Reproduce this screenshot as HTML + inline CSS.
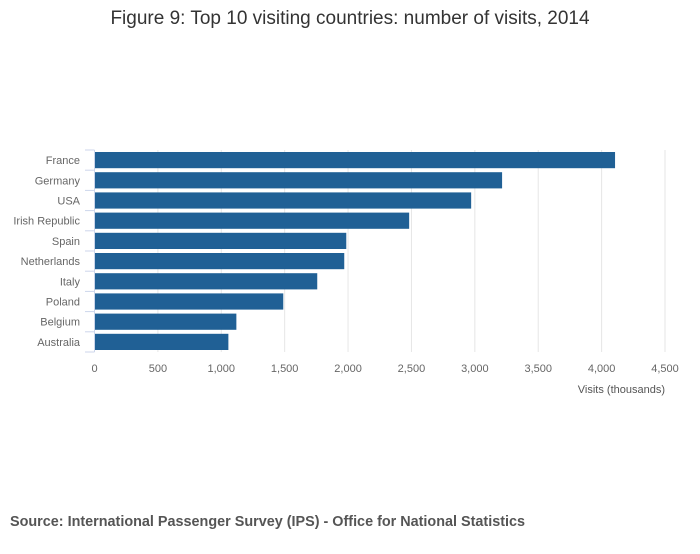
<!DOCTYPE html>
<html><head><meta charset="utf-8"><style>
body{margin:0;background:#fff;font-family:"Liberation Sans",sans-serif;}
</style></head><body>
<svg width="700" height="549" viewBox="0 0 700 549" id="chart">
<text x="350" y="24" text-anchor="middle" font-size="19" fill="#333">Figure 9: Top 10 visiting countries: number of visits, 2014</text>
<g id="grid"></g><g id="bars"></g><g id="axes"></g>
<text x="665" y="393" text-anchor="end" font-size="11" fill="#555">Visits (thousands)</text>
<text x="10" y="526" font-size="14.4" font-weight="bold" fill="#555">Source: International Passenger Survey (IPS) - Office for National Statistics</text>
</svg>
<script>
const categories=["France","Germany","USA","Irish Republic","Spain","Netherlands","Italy","Poland","Belgium","Australia"];
const visits=[4106,3215,2971,2482,1986,1970,1757,1489,1119,1056];
const ticks=[0,500,1000,1500,2000,2500,3000,3500,4000,4500];
const tickLabels=["0","500","1,000","1,500","2,000","2,500","3,000","3,500","4,000","4,500"];
const NS="http://www.w3.org/2000/svg";
const x0=94.5,x1=665,yTop=150,yBot=352,maxV=4500;
const step=(yBot-yTop)/categories.length;
function xs(v){return x0+(x1-x0)*v/maxV;}
function mk(t,a,p){const e=document.createElementNS(NS,t);for(const k in a)e.setAttribute(k,a[k]);p.appendChild(e);return e;}
const grid=document.getElementById('grid'),bars=document.getElementById('bars'),axes=document.getElementById('axes');
ticks.forEach((t,i)=>{
  if(i>0){const g=mk('line',{x1:xs(t),x2:xs(t),y1:yTop,y2:yBot,stroke:'#e6e6e6'},grid);
  
  }
  const l=mk('text',{x:xs(t),y:372,'text-anchor':'middle','font-size':11,fill:'#666'},axes);
  l.textContent=tickLabels[i];
  
  
});
categories.forEach((c,i)=>{
  const y=yTop+i*step;
  const b=mk('rect',{x:x0+0.5,y:y+2,width:xs(visits[i])-x0-0.5,height:step-4,fill:'#206095'},bars);
  
  
  const l=mk('text',{x:80,y:y+step/2+4,'text-anchor':'end','font-size':11,fill:'#666'},axes);
  l.textContent=c;
  
  
});
for(let i=0;i<=categories.length;i++){
  const y=yTop+i*step;
  mk('line',{x1:85,x2:x0,y1:y,y2:y,stroke:'#ccd6eb'},axes);
}
const ax=mk('line',{x1:x0,x2:x0,y1:yTop,y2:yBot,stroke:'#ccd6eb'},axes);


</script>
</body></html>
